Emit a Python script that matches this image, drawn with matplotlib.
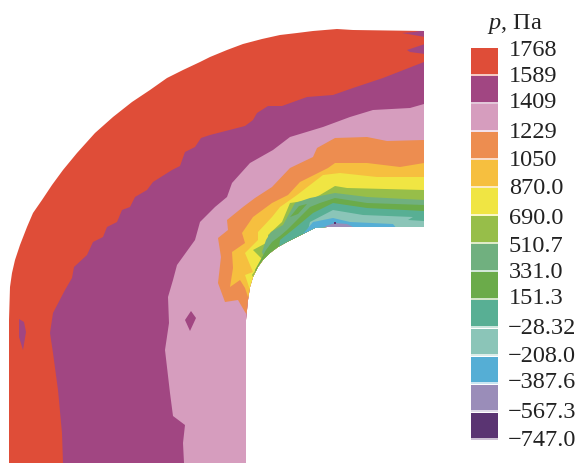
import matplotlib
matplotlib.use('Agg')
import matplotlib.pyplot as plt
from matplotlib.patches import Polygon

plt.rcParams['font.family'] = ['Liberation Serif', 'DejaVu Serif']
plt.rcParams['mathtext.fontset'] = 'custom'
plt.rcParams['mathtext.it'] = 'Liberation Serif:italic'
plt.rcParams['mathtext.rm'] = 'Liberation Serif'

# legend
level_labels = ['1768', '1589', '1409', '1229', '1050', '870.0', '690.0', '510.7', '331.0',
                '151.3', '\u221228.32', '\u2212208.0', '\u2212387.6', '\u2212567.3', '\u2212747.0']
level_colors = ['#DF4D38', '#A14682', '#D69DBE', '#ED8D50', '#F6BF3F', '#F0E543', '#97BE49',
                '#70B07F', '#6BAB4A', '#58AF94', '#8BC5B8', '#55AED5', '#9A8DB9', '#5A3472']
label_y = [50, 77, 103, 133, 160, 189, 218, 247, 272, 298, 329, 357, 382, 412, 440]

# channel outline in pixels
outer_wall = [(9, 463), (9, 320), (10, 287), (12, 273), (15, 260), (20, 245), (27, 227), (33, 213),
              (42, 200), (52, 185), (63, 170), (77, 153), (95, 133), (113, 117), (132, 102),
              (150, 90), (167, 78), (183, 70), (200, 62), (210, 57), (227, 50), (243, 44), (262, 39),
              (280, 35), (297, 33), (313, 31), (337, 29), (353, 30), (424, 31)]
inner_wall = [(424, 227), (327, 227), (315, 228), (307, 232), (297, 237), (287, 242), (278, 247),
              (270, 253), (263, 260), (258, 267), (253, 277), (250, 287), (248, 300), (247, 310),
              (246, 320), (246, 463)]

# isolines, from the bottom/inner wall round to the outlet
c_1589 = [(63, 463), (62, 433), (58, 390), (53, 353), (50, 333), (53, 313), (65, 290), (72, 278),
          (74, 267), (87, 255), (93, 242), (103, 237), (107, 227), (117, 222), (122, 210), (130, 207),
          (135, 197), (147, 190), (153, 182), (172, 170), (180, 166), (185, 152), (195, 147),
          (201, 138), (210, 135), (245, 126), (253, 120), (257, 113), (268, 106), (282, 106),
          (307, 97), (333, 95), (353, 88), (383, 78), (424, 62)]
c_1409 = [(184, 463), (183, 443), (185, 425), (173, 416), (170, 393), (165, 350), (169, 323),
          (168, 297), (173, 280), (177, 265), (195, 240), (200, 222), (215, 207), (227, 197),
          (232, 183), (250, 163), (273, 150), (290, 137), (323, 127), (350, 117), (373, 110),
          (410, 108), (424, 104)]
c_1229 = [(245, 312), (238, 300), (225, 302), (218, 283), (221, 257), (218, 238), (228, 230),
          (227, 220), (243, 207), (255, 198), (272, 187), (290, 168), (313, 157), (317, 148),
          (335, 138), (367, 137), (387, 141), (424, 140)]
c_1050 = [(248, 297), (245, 288), (240, 280), (230, 287), (233, 268), (232, 252), (245, 243),
          (242, 233), (253, 217), (272, 203), (288, 195), (300, 182), (328, 168), (335, 163),
          (367, 163), (400, 167), (424, 163)]
c_870 = [(250, 290), (245, 275), (253, 272), (245, 253), (258, 240), (258, 232), (272, 217),
         (280, 207), (290, 200), (297, 195), (323, 175), (340, 173), (377, 177), (424, 177)]
c_690 = [(252, 275), (263, 260), (253, 250), (268, 242), (268, 235), (282, 222), (290, 203),
         (310, 200), (320, 195), (335, 186), (347, 188), (424, 190)]
c_510 = [(262, 252), (266, 240), (271, 232), (283, 225), (295, 203), (310, 198), (335, 193),
         (367, 197), (424, 200)]
c_331 = [(255, 270), (266, 250), (272, 242), (280, 236), (287, 230), (300, 217), (310, 207),
         (320, 203), (335, 198), (367, 203), (424, 205)]
c_151 = [(279, 248), (280, 240), (295, 228), (307, 218), (313, 213), (333, 203), (367, 208),
         (424, 211)]
c_m28 = [(307, 234), (310, 222), (333, 210), (363, 215), (413, 217), (408, 220), (424, 221)]
c_m208 = [(303, 234), (313, 222), (333, 218), (350, 222), (393, 224), (397, 229)]
c_m387 = [(323, 229), (326, 226), (335, 223), (347, 224), (357, 229)]
isolines = [c_1589, c_1409, c_1229, c_1050, c_870, c_690, c_510, c_331, c_151, c_m28, c_m208, c_m387]

# small closed islands: (band index, outline)
islands = [(1, [(19, 319), (24, 322), (26, 332), (23, 350), (19, 337)]),
           (1, [(191, 311), (196, 318), (190, 331), (185, 320)]),
           (1, [(402, 33), (414, 32), (425, 30), (425, 37)]),
           (1, [(407, 50), (425, 44), (425, 54), (410, 52)]),
           (8, [(290, 217), (299, 206), (307, 204), (298, 214)]),
           (13, [(334, 222), (336, 222), (336, 224), (334, 224)])]

fig = plt.figure(figsize=(5.77, 4.63), dpi=100)
ax = fig.add_axes([0, 0, 1, 1])
ax.set_xlim(0, 577)
ax.set_ylim(463, 0)
ax.axis('off')

domain = Polygon(outer_wall + inner_wall, closed=True, facecolor=level_colors[0], edgecolor='none')
ax.add_patch(domain)

for i, line in enumerate(isolines):
    # close each band round the far corner, the domain clip trims it
    x0, y0 = line[0]
    if y0 >= 463:
        closing = [(640, line[-1][1]), (640, 640), (x0, 640)]
    else:
        # starts on the inner wall, go back through the hole
        closing = [(640, line[-1][1]), (640, 400), (x0 + 60, 400)]
    band = Polygon(line + closing, closed=True, facecolor=level_colors[i + 1], edgecolor='none')
    ax.add_patch(band)
    band.set_clip_path(domain)

for idx, pts in islands:
    p = Polygon(pts, closed=True, facecolor=level_colors[idx], edgecolor='none')
    ax.add_patch(p)
    p.set_clip_path(domain)

# colour key, the gaps between cells carry a pale tint of the cell above
for i, col in enumerate(level_colors):
    ax.bar(484.5, 27.5, width=27, bottom=48 + i * 28.05, color=col, alpha=0.3, linewidth=0)
    ax.bar(484.5, 25.5, width=27, bottom=48 + i * 28.05, color=col, linewidth=0)

for lab, y in zip(level_labels, label_y):
    ax.text(509 if lab[0] != '\u2212' else 508, y, lab, fontsize=17.5, ha='left', va='center',
            color='#222222')
ax.text(487, 24, r'$\mathit{p}$, Па', fontsize=17.5, ha='left', va='center', color='#222222')

fig.savefig('out.png', dpi=100)
